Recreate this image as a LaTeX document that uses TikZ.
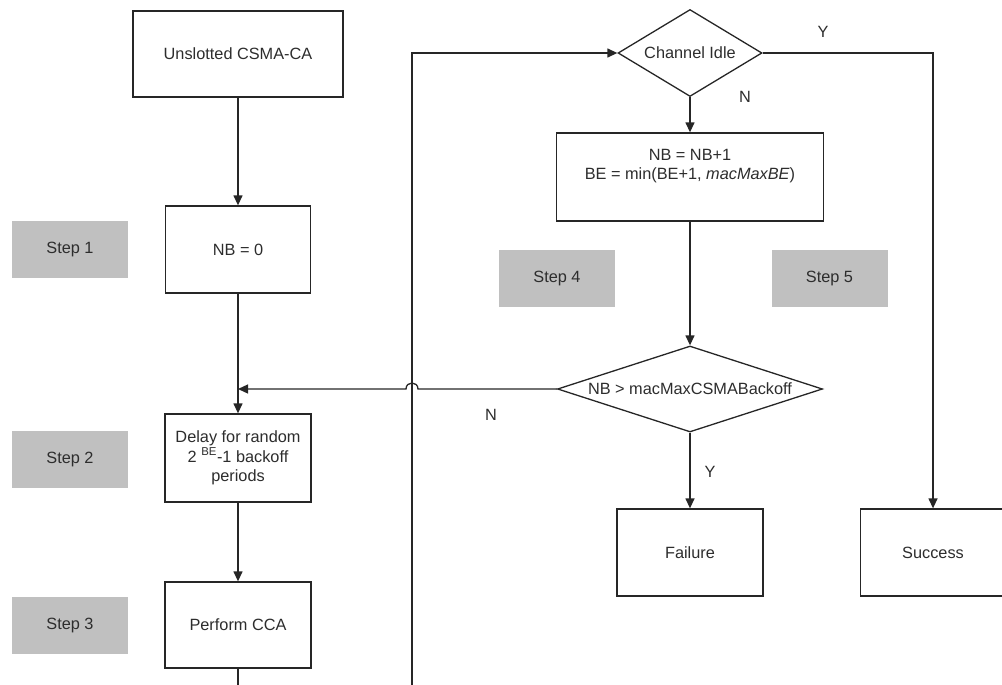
\documentclass[tikz,border=0pt]{standalone}
\usepackage{fontspec}
\setmainfont{Liberation Sans}
\usetikzlibrary{shapes.geometric,arrows.meta}
\definecolor{linec}{RGB}{38,38,38}
\definecolor{textc}{RGB}{45,45,45}
\definecolor{stepgray}{RGB}{192,192,192}
\begin{document}
\begin{tikzpicture}[x=1pt,y=-1pt,
  every node/.style={font=\fontsize{16.3}{19.5}\selectfont, text=textc},
  procbox/.style={draw=linec, line width=1.3pt, fill=white, rectangle,
    inner sep=0pt, align=center, minimum width=146pt, minimum height=87pt},
  decision/.style={draw=linec, line width=1.3pt, fill=white, diamond,
    inner sep=0pt, align=center},
  stepbox/.style={fill=stepgray, rectangle, inner sep=0pt,
    minimum width=116pt, minimum height=57pt},
  conn/.style={draw=linec, line width=1.3pt},
  arr/.style={conn, -{Triangle[length=10pt,width=9pt]}},
  lbl/.style={inner sep=0pt}
]
\clip (0,0) rectangle (1002,685);
\useasboundingbox (0,0) rectangle (1002,685);

% main column
\node[procbox, minimum width=210pt, minimum height=86pt] (start) at (238,54) {Unslotted CSMA-CA};
\node[procbox, minimum width=145pt] (nb0) at (238,249.5) {NB = 0};
\node[procbox, minimum height=88pt] (delay) at (238,458) {Delay for random\\2 \textsuperscript{BE}-1 backoff\\periods};
\node[procbox, minimum height=86pt] (cca) at (238,625) {Perform CCA};

% step markers
\node[stepbox] (s1) at (70,249.5) {Step 1};
\node[stepbox] (s2) at (70,459) {Step 2};
\node[stepbox] (s3) at (70,625.5) {Step 3};
\node[stepbox] (s4) at (557,278) {Step 4};
\node[stepbox] (s5) at (829.5,278) {Step 5};

% right part
\node[decision, aspect=1.65, minimum width=144pt, minimum height=87pt] (idle) at (690,53) {Channel Idle};
\node[procbox, minimum width=267pt, minimum height=88pt] (upd) at (690,177)
  {NB = NB+1\\BE = min(BE+1, \textit{macMaxBE})\\\strut};
\node[decision, aspect=3.08, minimum width=265pt, minimum height=86pt] (cmp) at (690,389) {NB > macMaxCSMABackoff};
\node[procbox] (fail) at (690,552.5) {Failure};
\node[procbox, minimum width=145pt] (succ) at (933,552.5) {Success};

% branch labels
\node[lbl] (ly1) at (823,32) {Y};
\node[lbl] (ln1) at (745,97) {N};
\node[lbl] (ln2) at (491,415) {N};
\node[lbl] (ly2) at (710,472) {Y};

% helper points
\coordinate (join) at (238,389);
\coordinate (ccaend) at (238,690);
\coordinate (loopbot) at (412,690);
\coordinate (looptop) at (412,53);
\coordinate (idlecorner) at (933,53);
\coordinate (hopR) at (418,389);
\coordinate (hopL) at (406,389);

% connectors
\draw[arr] (start.south) -- (nb0.north);
\draw[arr] (nb0.south) -- (delay.north);
\draw[arr] (delay.south) -- (cca.north);
\draw[conn] (cca.south) -- (ccaend);
\draw[arr] (loopbot) -- (looptop) -- (idle.west);
\draw[arr] (idle.east) -- (idlecorner) -- (succ.north);
\draw[arr] (idle.south) -- (upd.north);
\draw[arr] (upd.south) -- (cmp.north);
\draw[arr] (cmp.south) -- (fail.north);
\draw[arr] (cmp.west) -- (hopR) .. controls (418,381) and (406,381) .. (hopL) -- (join);
\end{tikzpicture}
\end{document}
